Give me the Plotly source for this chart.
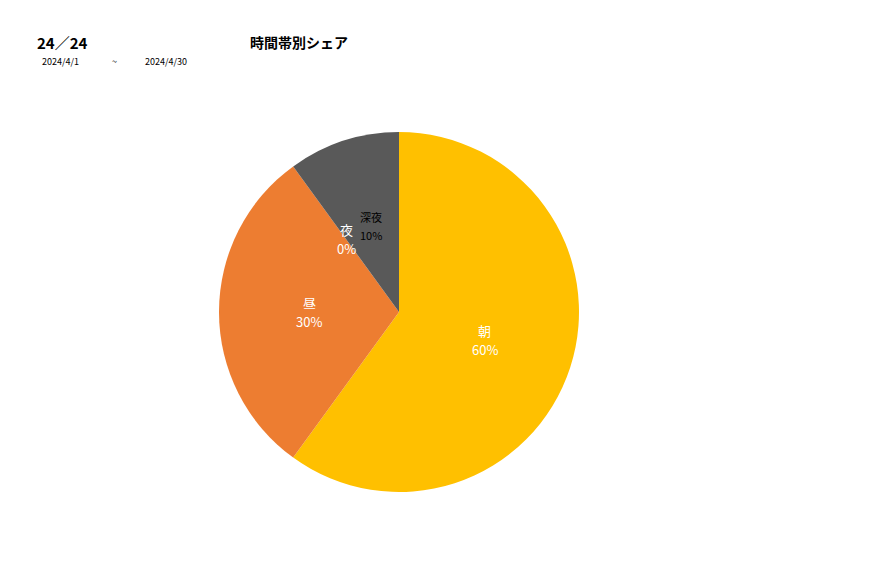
import math
import plotly.graph_objects as go

# 時間帯別シェア (2024/4/1 ~ 2024/4/30)
labels = ["朝", "昼", "夜", "深夜"]
values = [6, 3, 0, 1]
colors = ["#FFC000", "#ED7D31", "#A5A5A5", "#595959"]
text_colors = ["white", "white", "white", "black"]
text_sizes = [13, 13, 13, 11]

font = "Noto Sans CJK JP"
W, H = 877, 578

# pie box in pixels (left, top, size)
px0, py0, size = 211, 124, 360
cx, cy, r = px0 + size / 2, py0 + size / 2, size / 2

fig = go.Figure()
fig.add_trace(go.Pie(
    labels=labels,
    values=values,
    sort=False,
    direction="clockwise",
    rotation=0,
    marker=dict(colors=colors, line=dict(width=0)),
    textinfo="none",
    showlegend=False,
    hoverinfo="label+percent",
    domain=dict(x=[px0 / W, (px0 + size) / W], y=[1 - (py0 + size) / H, 1 - py0 / H]),
))

# data labels: halfway out along each slice's bisector (zero slice included)
total = sum(values)
start = 0.0
for lab, v, tc, ts in zip(labels, values, text_colors, text_sizes):
    frac = v / total
    mid = (start + frac / 2) * 2 * math.pi
    start += frac
    lx = cx + 0.5 * r * math.sin(mid)
    ly = cy - 0.5 * r * math.cos(mid)
    gap = 9.5 if ts > 12 else 9
    for txt, dy in [(lab, -gap), (f"{frac:.0%}", gap)]:
        fig.add_annotation(text=txt, x=lx / W, y=1 - (ly + dy) / H,
                           xref="paper", yref="paper", xanchor="center", yanchor="middle",
                           showarrow=False,
                           font=dict(size=ts, color=tc, family=font))

fig.add_annotation(text="<b>24／24</b>", x=27 / W, y=1 - 34 / H,
                   xref="paper", yref="paper", xanchor="left", yanchor="middle",
                   showarrow=False, font=dict(size=15, color="black", family=font))
fig.add_annotation(text="<b>時間帯別シェア</b>", x=240 / W, y=1 - 34 / H,
                   xref="paper", yref="paper", xanchor="left", yanchor="middle",
                   showarrow=False, font=dict(size=14, color="black", family=font))
for txt, xpos in [("2024/4/1", 32), ("~", 102), ("2024/4/30", 135)]:
    fig.add_annotation(text=txt, x=xpos / W, y=1 - 54 / H,
                       xref="paper", yref="paper", xanchor="left", yanchor="middle",
                       showarrow=False, font=dict(size=9, color="black", family=font))

fig.update_layout(
    width=W, height=H,
    margin=dict(l=0, r=0, t=0, b=0),
    paper_bgcolor="white",
    plot_bgcolor="white",
    font=dict(family=font),
)

fig.write_html("out.html")
